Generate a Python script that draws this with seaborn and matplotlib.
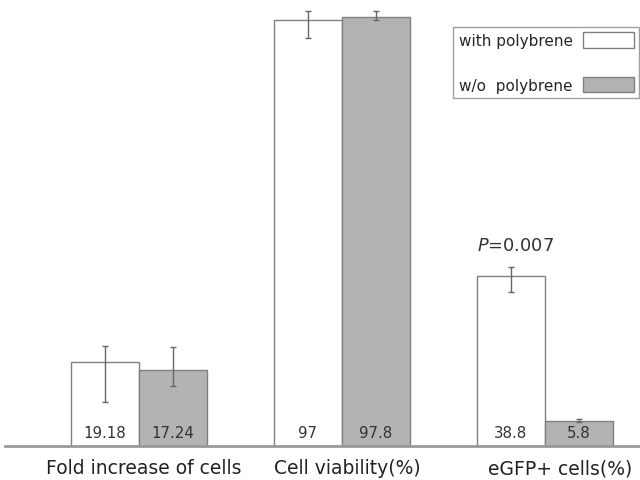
import matplotlib
matplotlib.use("Agg")
import matplotlib.pyplot as plt
import matplotlib.transforms as mtransforms
from matplotlib.patches import Patch
import seaborn as sns
import pandas as pd

categories = ["Fold increase of cells", "Cell viability(%)", "eGFP+ cells(%)"]
series = ["with polybrene", "w/o  polybrene"]
with_vals = [19.18, 97.0, 38.8]
wo_vals = [17.24, 97.8, 5.8]
with_labels = ["19.18", "97", "38.8"]
wo_labels = ["17.24", "97.8", "5.8"]
with_err_low = [9.1, 3.9, 3.8]
with_err_high = [3.7, 2.1, 2.0]
wo_err_low = [3.5, 0.7, 0.35]
wo_err_high = [5.4, 1.4, 0.35]
p_text = "=0.007"

sns.set_theme(style="white")
plt.rcParams["font.family"] = ["DejaVu Sans"]
plt.rcParams["mathtext.fontset"] = "dejavusans"

df = pd.DataFrame({
    "category": categories * 2,
    "series": [series[0]] * 3 + [series[1]] * 3,
    "value": with_vals + wo_vals,
})

fig = plt.figure(figsize=(6.4, 4.81), dpi=100)
ax = fig.add_axes([5 / 640, 34 / 481, 635 / 640, 447 / 481])

palette = {series[0]: "#ffffff", series[1]: "#b3b3b3"}
sns.barplot(data=df, x="category", y="value", hue="series", order=categories,
            hue_order=series, palette=palette, width=0.67, errorbar=None,
            edgecolor="#808080", linewidth=1.0, legend=False, ax=ax)

bar_conts = list(ax.containers)
errs = [(with_err_low, with_err_high), (wo_err_low, wo_err_high)]
vals = [with_vals, wo_vals]
labels = [with_labels, wo_labels]
for ci, cont in enumerate(bar_conts):
    xs = [b.get_x() + b.get_width() / 2 for b in cont]
    ax.errorbar(xs, vals[ci], yerr=[errs[ci][0], errs[ci][1]], fmt="none",
                ecolor="#666666", elinewidth=1.0, capsize=2.2, capthick=1.0, zorder=5)
    for x, lab in zip(xs, labels[ci]):
        ax.text(x, 2.0, lab, ha="center", va="baseline", fontsize=10.8, color="#333333")

ax.set_xlim(-0.66, 2.468)
ax.set_ylim(0, 101.9)
ax.set_xlabel("")
ax.set_ylabel("")
ax.set_yticks([])
ax.set_xticks(range(len(categories)))
ax.set_xticklabels(categories, fontsize=13.5, color="#222222")
ax.tick_params(axis="x", length=0, pad=9)
for lab, dx in zip(ax.get_xticklabels(), [5, 5, 15]):
    off = mtransforms.ScaledTranslation(dx / 100, 0, fig.dpi_scale_trans)
    lab.set_transform(lab.get_transform() + off)

for s in ["top", "right", "left"]:
    ax.spines[s].set_visible(False)
ax.spines["bottom"].set_color("#9a9a9a")
ax.spines["bottom"].set_linewidth(2.0)

xp = bar_conts[0][2].get_x()
ax.text(xp, 45.8, r"$\mathit{P}$" + p_text, ha="left", va="center",
        fontsize=12.8, color="#333333")

handles = [Patch(facecolor=palette[s], edgecolor="#808080", linewidth=1.0) for s in series]
leg = fig.legend(handles, series, loc="upper right",
                 bbox_to_anchor=(639 / 640, 1 - 28 / 481), markerfirst=False,
                 fancybox=False, frameon=True, edgecolor="#888888",
                 fontsize=11, handlelength=3.3, handleheight=1.2,
                 labelspacing=1.85, handletextpad=0.7, borderpad=0.35,
                 borderaxespad=0)
leg.get_frame().set_linewidth(1.0)

fig.savefig("out.png", dpi=100)
